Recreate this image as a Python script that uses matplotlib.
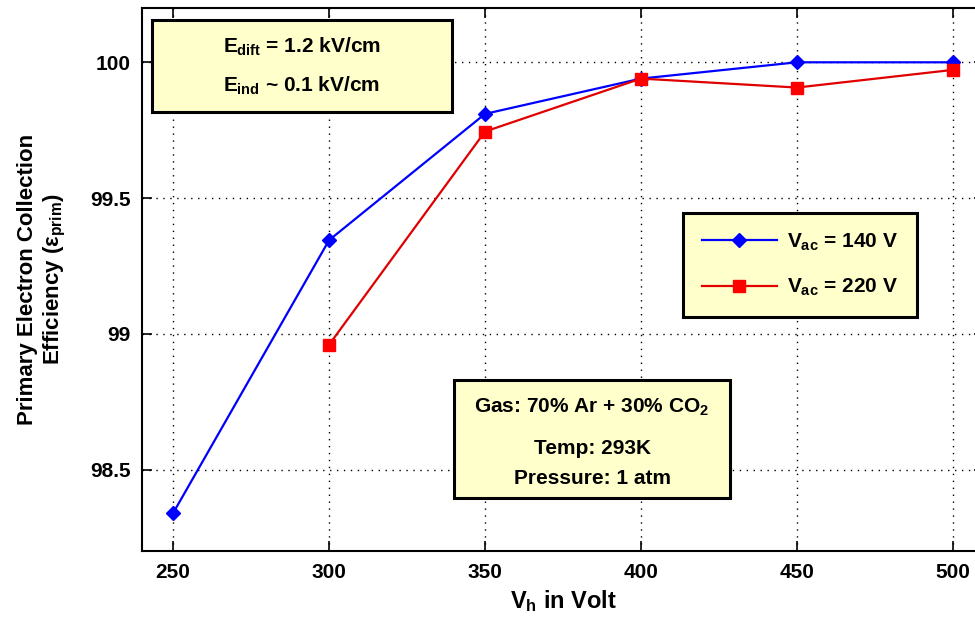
import matplotlib
matplotlib.use("Agg")
import matplotlib.pyplot as plt
from matplotlib.patches import Rectangle

# efficiency vs hole voltage for two Vac settings
vh_140 = [250, 300, 350, 400, 450, 500]
eff_140 = [98.34, 99.345, 99.81, 99.94, 100.0, 100.0]
vh_220 = [300, 350, 400, 450, 500]
eff_220 = [98.96, 99.745, 99.94, 99.907, 99.972]

x_ticks = [250, 300, 350, 400, 450, 500]
y_ticks = [98.5, 99, 99.5, 100]
y_tick_labels = ["98.5", "99", "99.5", "100"]

field_lines = [r"$E_{dift}$ = 1.2 kV/cm", r"$E_{ind}$ ~ 0.1 kV/cm"]
gas_lines = [r"Gas: 70% Ar + 30% CO$_2$", "Temp: 293K", "Pressure: 1 atm"]

plt.rcParams["font.family"] = ["Liberation Sans", "DejaVu Sans"]
plt.rcParams["font.weight"] = "bold"
plt.rcParams["axes.labelweight"] = "bold"
plt.rcParams["mathtext.fontset"] = "custom"
plt.rcParams["mathtext.rm"] = "Liberation Sans:bold"
plt.rcParams["mathtext.it"] = "Liberation Sans:bold"
plt.rcParams["mathtext.bf"] = "Liberation Sans:bold"

W, H = 975, 626
fig = plt.figure(figsize=(W / 100, H / 100), dpi=100)


def fx(px):
    return px / W


def fy(py):
    return 1 - py / H


ax = fig.add_axes([fx(142), fy(551), (984 - 142) / W, (551 - 8) / H])

ax.plot(vh_140, eff_140, color="#0000ff", lw=1.6, marker="D", ms=7,
        label=r"$V_{ac}$ = 140 V")
ax.plot(vh_220, eff_220, color="#e00000", lw=1.6, marker="s", ms=9,
        mfc="#ff0000", mec="#ff0000", label=r"$V_{ac}$ = 220 V")

ax.set_xlim(240, 510)
ax.set_ylim(98.2, 100.2)
ax.set_xticks(x_ticks)
ax.set_yticks(y_ticks)
ax.set_yticklabels(y_tick_labels)
ax.tick_params(direction="in", length=7, width=1.2, top=True, right=True,
               labelsize=15)
ax.tick_params(axis="x", pad=9)
ax.tick_params(axis="y", pad=8)
ax.grid(True, color="black", linestyle=(0, (1, 4)), lw=1)
for s in ax.spines.values():
    s.set_linewidth(1.5)

ax.set_xlabel(r"$V_h$ in Volt", fontsize=17, labelpad=4)
ax.set_ylabel("Primary Electron Collection\n" + r"Efficiency ($\epsilon_{prim}$)",
              fontsize=16, labelpad=16, linespacing=1.25)

leg = ax.legend(loc="upper left", bbox_to_anchor=(fx(683), fy(213)),
                bbox_transform=fig.transFigure, borderaxespad=0,
                fontsize=15, handlelength=3.6, handletextpad=0.5,
                labelspacing=1.15, borderpad=0.9, fancybox=False,
                framealpha=1, facecolor="#ffffcc", edgecolor="black")
leg.get_frame().set_linewidth(2.2)

# annotation boxes
def text_box(x0, y0, x1, y1, lines, ys):
    fig.patches.append(Rectangle((fx(x0), fy(y1)), fx(x1) - fx(x0),
                                 fy(y0) - fy(y1), transform=fig.transFigure,
                                 facecolor="#ffffcc", edgecolor="black",
                                 lw=2.2, zorder=5))
    for t, yy in zip(lines, ys):
        fig.text(fx((x0 + x1) / 2), fy(yy), t, ha="center", va="center",
                 fontsize=15, zorder=6)


text_box(152, 20, 452, 112, field_lines, [47, 86])
text_box(454, 380, 730, 498, gas_lines, [407, 448, 478])

fig.savefig("out.png", dpi=100)
